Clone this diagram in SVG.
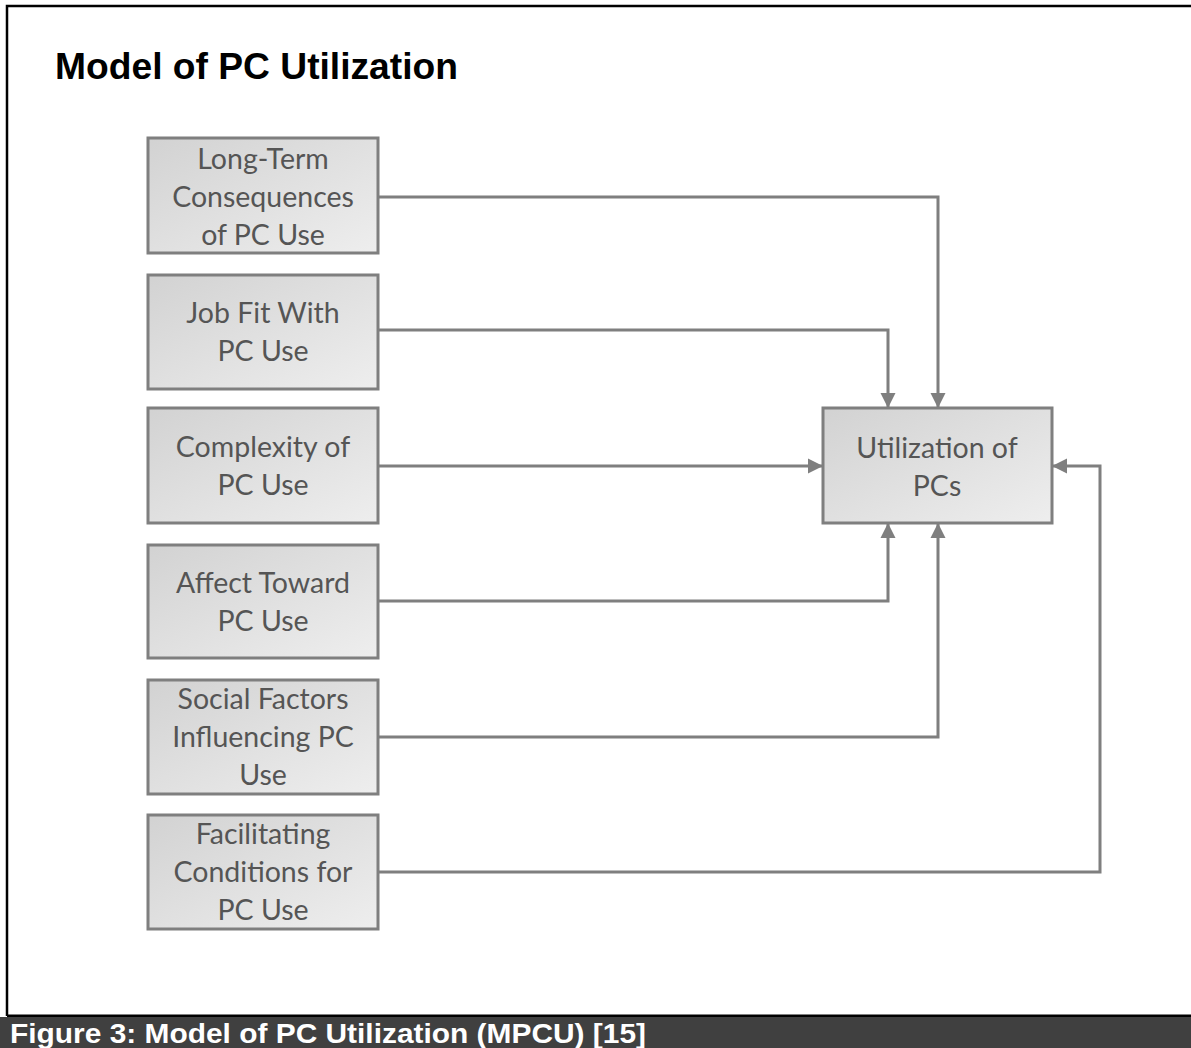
<svg xmlns="http://www.w3.org/2000/svg" width="1191" height="1048" viewBox="0 0 1191 1048">
  <style>
    .box { stroke: #7f7f7f; stroke-width: 3; fill: url(#boxFill); }
    .lbl { font-family: Lato, "Open Sans", "Liberation Sans", sans-serif; font-size: 28.5px; fill: #555555; text-anchor: middle; }
    .wire { fill: none; stroke: #7f7f7f; stroke-width: 3; }
  </style>
  <defs>
    <linearGradient id="boxFill" x1="0" y1="0" x2="1" y2="1">
      <stop offset="0" stop-color="#d2d2d2"/>
      <stop offset="1" stop-color="#eeeeee"/>
    </linearGradient>
    <marker id="arrow" viewBox="0 0 10 10" refX="10" refY="5" markerWidth="5" markerHeight="5.4" orient="auto" markerUnits="strokeWidth">
      <path d="M0,0 L10,5 L0,10 Z" fill="#7f7f7f"/>
    </marker>
  </defs>

  <!-- page background and frame -->
  <rect x="0" y="0" width="1191" height="1048" fill="#ffffff"/>
  <path d="M7,1016 V6 H1191" fill="none" stroke="#000000" stroke-width="2.5"/>
  <line x1="7" y1="1016" x2="1191" y2="1016" stroke="#000000" stroke-width="3"/>
  <rect x="0" y="1017" width="1191" height="31" fill="#404040"/>
  <text x="10" y="1043" font-family="'Liberation Sans Narrow', 'Liberation Sans', sans-serif" font-weight="bold" font-size="28" fill="#ffffff" textLength="636" lengthAdjust="spacingAndGlyphs">Figure 3: Model of PC Utilization (MPCU) [15]</text>

  <!-- title -->
  <text x="55" y="79" font-family="'Liberation Sans', Arial, sans-serif" font-weight="bold" font-size="36" fill="#000000" textLength="403" lengthAdjust="spacingAndGlyphs">Model of PC Utilization</text>

  <!-- connectors -->
  <g id="connectors">
    <path class="wire" d="M378,197 H938 V408" marker-end="url(#arrow)"/>
    <path class="wire" d="M378,330 H888 V408" marker-end="url(#arrow)"/>
    <path class="wire" d="M378,466 H823" marker-end="url(#arrow)"/>
    <path class="wire" d="M378,601 H888 V523" marker-end="url(#arrow)"/>
    <path class="wire" d="M378,737 H938 V523" marker-end="url(#arrow)"/>
    <path class="wire" d="M378,872 H1100 V466 H1052" marker-end="url(#arrow)"/>
  </g>

  <!-- nodes -->
  <g id="long-term-consequences">
    <rect class="box" x="148" y="138" width="230" height="115"/>
    <text class="lbl" x="263" y="169">Long-Term</text>
    <text class="lbl" x="263" y="207">Consequences</text>
    <text class="lbl" x="263" y="245">of PC Use</text>
  </g>
  <g id="job-fit">
    <rect class="box" x="148" y="275" width="230" height="114"/>
    <text class="lbl" x="263" y="323">Job Fit With</text>
    <text class="lbl" x="263" y="361">PC Use</text>
  </g>
  <g id="complexity">
    <rect class="box" x="148" y="408" width="230" height="115"/>
    <text class="lbl" x="263" y="457">Complexity of</text>
    <text class="lbl" x="263" y="495">PC Use</text>
  </g>
  <g id="affect">
    <rect class="box" x="148" y="545" width="230" height="113"/>
    <text class="lbl" x="263" y="593">Affect Toward</text>
    <text class="lbl" x="263" y="631">PC Use</text>
  </g>
  <g id="social-factors">
    <rect class="box" x="148" y="680" width="230" height="114"/>
    <text class="lbl" x="263" y="709">Social Factors</text>
    <text class="lbl" x="263" y="747">Influencing PC</text>
    <text class="lbl" x="263" y="785">Use</text>
  </g>
  <g id="facilitating-conditions">
    <rect class="box" x="148" y="815" width="230" height="114"/>
    <text class="lbl" x="263" y="844">Facilitating</text>
    <text class="lbl" x="263" y="882">Conditions for</text>
    <text class="lbl" x="263" y="920">PC Use</text>
  </g>
  <g id="utilization">
    <rect class="box" x="823" y="408" width="229" height="115"/>
    <text class="lbl" x="937" y="458">Utilization of</text>
    <text class="lbl" x="937" y="496">PCs</text>
  </g>
</svg>
